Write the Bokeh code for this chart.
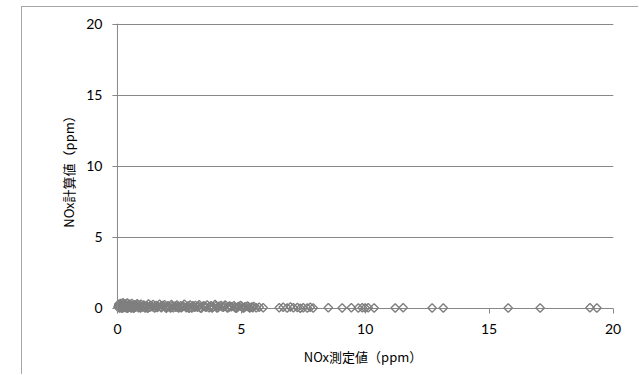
from bokeh.plotting import figure
from bokeh.models import Range1d, FixedTicker, Span
from bokeh.embed import file_html
from bokeh.resources import INLINE

# measured NOx (x) vs calculated NOx (y), ppm
measured = [0.02, 0.05, 0.08, 0.10, 0.12, 0.15, 0.18, 0.20, 0.22, 0.25, 0.28, 0.30,
            0.33, 0.36, 0.40, 0.43, 0.47, 0.50, 0.54, 0.58, 0.62, 0.66, 0.70, 0.75,
            0.80, 0.85, 0.90, 0.95, 1.00, 1.06, 1.12, 1.18, 1.25, 1.31, 1.38, 1.44,
            1.50, 1.57, 1.63, 1.70, 1.77, 1.84, 1.90, 1.97, 2.04, 2.10, 2.18, 2.25,
            2.32, 2.40, 2.47, 2.55, 2.62, 2.70, 2.78, 2.85, 2.93, 3.00, 3.08, 3.15,
            3.23, 3.30, 3.38, 3.46, 3.54, 3.62, 3.70, 3.78, 3.86, 3.94, 4.02, 4.10,
            4.18, 4.27, 4.35, 4.44, 4.52, 4.60, 4.70, 4.78, 4.88, 4.97, 5.05, 5.15,
            5.25, 5.34, 5.42, 5.50, 5.60, 5.72, 5.88,
            0.04, 0.09, 0.14, 0.19, 0.24, 0.29, 0.35, 0.41, 0.46, 0.52, 0.57, 0.64,
            0.71, 0.78, 0.86, 0.93, 1.03, 1.09, 1.16, 1.22, 1.34, 1.41, 1.53, 1.60,
            1.74, 1.80, 1.93, 2.01, 2.14, 2.21, 2.36, 2.44, 2.58, 2.66, 2.81, 2.89,
            3.04, 3.12, 3.27, 3.34, 3.50, 3.58, 3.74, 3.82, 3.98, 4.06, 4.22, 4.31,
            4.48, 4.56, 4.74, 4.83, 5.01, 5.10, 5.30, 5.46,
            6.53, 6.69, 6.85, 6.98, 7.10, 7.26, 7.38, 7.50, 7.66, 7.78, 7.90, 8.51,
            9.07, 9.44, 9.72, 9.88, 10.00, 10.12, 10.36, 11.21, 11.53, 12.70, 13.15,
            15.77, 17.06, 19.07, 19.35]
calculated = [0.10, 0.30, 0.05, 0.22, 0.35, 0.12, 0.02, 0.28, 0.40, 0.15, 0.08, 0.33,
              0.20, 0.04, 0.38, 0.25, 0.10, 0.30, 0.06, 0.36, 0.18, 0.02, 0.27, 0.12,
              0.34, 0.05, 0.22, 0.30, 0.10, 0.25, 0.03, 0.20, 0.32, 0.08, 0.15, 0.28,
              0.04, 0.22, 0.12, 0.30, 0.06, 0.18, 0.26, 0.02, 0.20, 0.10, 0.28, 0.05,
              0.16, 0.24, 0.03, 0.20, 0.12, 0.30, 0.06, 0.18, 0.25, 0.04, 0.14, 0.22,
              0.08, 0.26, 0.02, 0.18, 0.12, 0.24, 0.05, 0.20, 0.10, 0.28, 0.03, 0.16,
              0.22, 0.08, 0.25, 0.04, 0.18, 0.12, 0.20, 0.02, 0.15, 0.22, 0.06, 0.12,
              0.18, 0.04, 0.10, 0.15, 0.05, 0.08, 0.06,
              0.18, 0.04, 0.25, 0.14, 0.06, 0.20, 0.10, 0.02, 0.24, 0.14, 0.04, 0.20,
              0.09, 0.22, 0.14, 0.04, 0.18, 0.08, 0.14, 0.02, 0.22, 0.12, 0.16, 0.07,
              0.13, 0.22, 0.09, 0.14, 0.04, 0.17, 0.09, 0.13, 0.06, 0.16, 0.12, 0.02,
              0.20, 0.09, 0.15, 0.06, 0.18, 0.09, 0.14, 0.03, 0.17, 0.07, 0.12, 0.16,
              0.07, 0.14, 0.09, 0.05, 0.14, 0.03, 0.09, 0.06,
              0.05, 0.08, 0.03, 0.10, 0.05, 0.07, 0.02, 0.06, 0.04, 0.08, 0.03, 0.05,
              0.04, 0.05, 0.03, 0.06, 0.04, 0.05, 0.03, 0.04, 0.05, 0.03, 0.04,
              0.04, 0.03, 0.05, 0.04]
x_ticks = [0, 5, 10, 15, 20]
y_ticks = [0, 5, 10, 15, 20]
x_title = "NOx測定値（ppm）"
y_title = "NOx計算値（ppm）"

GRAY = "#878787"
TICK_FONT = "Lato"
CJK_FONT = "Noto Sans CJK JP"

p = figure(width=617, height=368, output_backend="svg", toolbar_location=None,
           x_range=Range1d(-0.2, 20.02), y_range=Range1d(-0.352, 20.05),
           min_border_left=90, min_border_top=16, min_border_right=26,
           min_border_bottom=62)
p.styles = {"margin-left": "21px", "margin-top": "6px",
            "border-left": "1px solid #a6a6a6", "border-top": "1px solid #a6a6a6"}
p.outline_line_color = None
p.background_fill_color = "white"
p.border_fill_color = "white"

p.scatter(measured, calculated, marker="square", size=6, angle=0.7854,
          line_color="#7f7f7f", line_width=1.4, fill_alpha=0)

# y axis line at x = 0
p.add_layout(Span(location=0, dimension="height", line_color=GRAY, line_width=1))

for ax in (p.xaxis[0], p.yaxis[0]):
    ax.axis_line_color = None
    ax.major_tick_line_color = GRAY
    ax.major_tick_in = 5
    ax.major_tick_out = 0
    ax.minor_tick_line_color = None
    ax.major_label_text_font = TICK_FONT
    ax.major_label_text_font_size = "14px"
    ax.major_label_text_color = "black"
    ax.axis_label_text_font = CJK_FONT
    ax.axis_label_text_font_size = "13px"
    ax.axis_label_text_font_style = "normal"
    ax.axis_label_text_color = "black"

p.xaxis[0].ticker = FixedTicker(ticks=x_ticks)
p.yaxis[0].ticker = FixedTicker(ticks=y_ticks)
p.xaxis[0].axis_label = x_title
p.yaxis[0].axis_label = y_title
p.xaxis[0].major_label_standoff = 10
p.yaxis[0].major_label_standoff = 10
p.xaxis[0].axis_label_standoff = 10
p.yaxis[0].axis_label_standoff = 5

p.xgrid.grid_line_color = None
p.ygrid.grid_line_color = GRAY
p.ygrid.grid_line_width = 1

open("out.html", "w").write(file_html(p, INLINE))
